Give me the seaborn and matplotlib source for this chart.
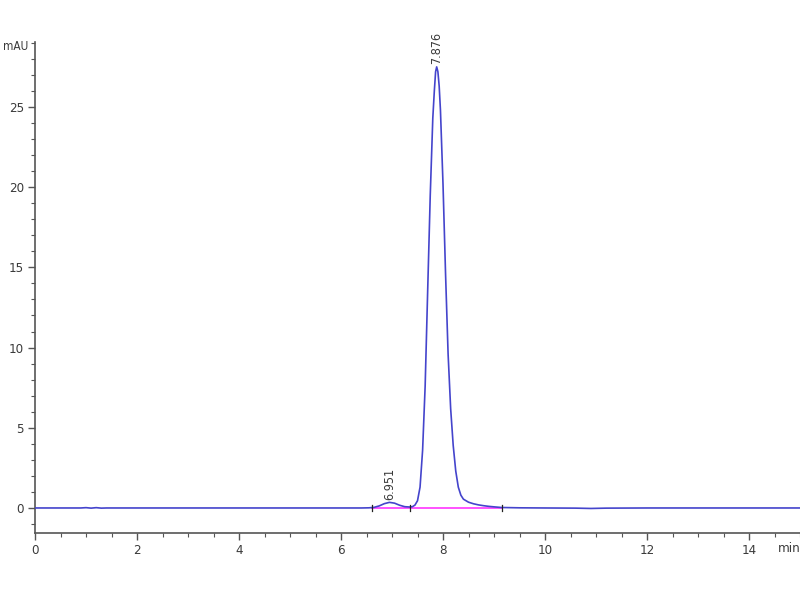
import matplotlib
matplotlib.use("Agg")
import matplotlib.pyplot as plt
import seaborn as sns
import pandas as pd
from matplotlib.ticker import MultipleLocator

# ---- data ----
time_min = [0.0, 0.5, 0.9, 1.0, 1.1, 1.2, 1.3, 1.4, 2.0, 3.0, 4.0, 5.0, 6.0, 6.4,
            6.55, 6.65, 6.75, 6.85, 6.95, 7.05, 7.15, 7.25, 7.35, 7.40, 7.45,
            7.50, 7.55, 7.60, 7.65, 7.70, 7.75, 7.80, 7.83, 7.855, 7.876, 7.90,
            7.925, 7.95, 8.00, 8.05, 8.10, 8.15, 8.20, 8.25, 8.30, 8.35, 8.40,
            8.50, 8.60, 8.70, 8.80, 8.90, 9.00, 9.15, 9.5, 10.0, 10.6, 10.9,
            11.2, 12.0, 13.0, 14.0, 15.0]
signal_mau = [0.0, 0.0, 0.0, 0.02, -0.01, 0.02, -0.01, 0.0, 0.0, 0.0, 0.0, 0.0, 0.0, 0.0,
              0.01, 0.04, 0.13, 0.27, 0.35, 0.30, 0.17, 0.08, 0.06, 0.08, 0.18,
              0.45, 1.3, 3.6, 7.6, 13.6, 19.5, 24.3, 26.0, 27.2, 27.5, 27.2,
              26.3, 24.8, 20.2, 14.6, 9.6, 6.2, 3.9, 2.3, 1.3, 0.8, 0.55,
              0.36, 0.26, 0.19, 0.14, 0.10, 0.07, 0.03, 0.01, 0.0, -0.01, -0.03,
              -0.01, 0.0, 0.0, 0.0, 0.0]

peak_times = [6.951, 7.876]
peak_labels = ["6.951", "7.876"]
peak_heights = [0.35, 27.5]

baseline_start = 6.6
baseline_end = 9.15
boundary_marks = [6.6, 7.35, 9.15]

x_ticks = [0, 2, 4, 6, 8, 10, 12, 14]
y_ticks = [0, 5, 10, 15, 20, 25]

df = pd.DataFrame({"time": time_min, "signal": signal_mau})

plt.rcParams["font.family"] = ["DejaVu Sans"]
plt.rcParams["font.stretch"] = "condensed"
fig = plt.figure(figsize=(8, 6), dpi=100)
ax = fig.add_axes([35 / 800, 67 / 600, 765 / 800, 491 / 600])

axis_col = "#555555"
txt_col = "#3a3a3a"
# integration baseline
ax.plot([baseline_start, baseline_end], [0.0, 0.0], color="#ff44ff", lw=1.3, zorder=2)
sns.lineplot(data=df, x="time", y="signal", ax=ax, color="#4444cc", lw=1.2,
             estimator=None, sort=False, zorder=3)
for bx in boundary_marks:
    ax.plot([bx, bx], [-0.2, 0.2], color="#222222", lw=0.9, zorder=4)

for t, lab, h in zip(peak_times, peak_labels, peak_heights):
    ax.text(t, h + 0.15, lab, rotation=90, ha="center", va="bottom",
            fontsize=9, color=txt_col)

ax.set_xlim(0, 15)
ax.set_ylim(-1.56, 29.05)
ax.set_xticks(x_ticks)
ax.set_yticks(y_ticks)
ax.xaxis.set_minor_locator(MultipleLocator(0.5))
ax.yaxis.set_minor_locator(MultipleLocator(1))
ax.set_xlabel("")
ax.set_ylabel("")
for s in ["top", "right"]:
    ax.spines[s].set_visible(False)
for s in ["left", "bottom"]:
    ax.spines[s].set_color(axis_col)
    ax.spines[s].set_linewidth(1.2)
ax.tick_params(which="major", length=5, width=1, color=axis_col,
               labelsize=9.5, labelcolor=txt_col, pad=3)
ax.tick_params(which="minor", length=3, width=0.8, color=axis_col)

fig.text(3 / 800, 1 - 47 / 600, "mAU", ha="left", va="center", fontsize=8.5,
         color=txt_col)
fig.text(789 / 800, 1 - 548 / 600, "min", ha="center", va="center", fontsize=9.5,
         color=txt_col)

fig.savefig("out.png", dpi=100)
